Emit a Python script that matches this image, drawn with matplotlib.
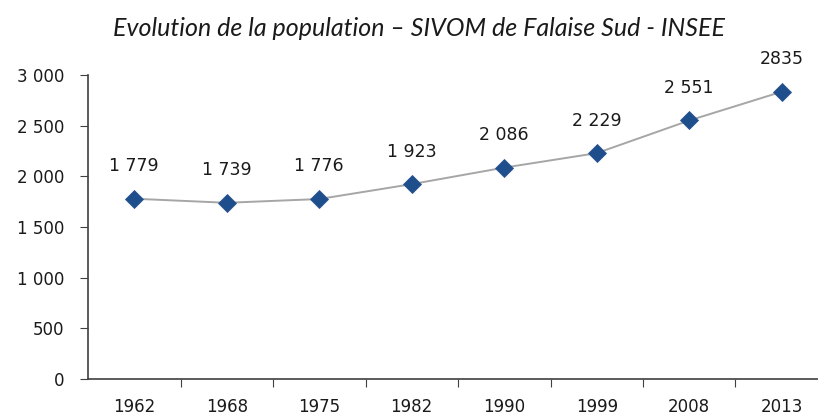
import matplotlib
matplotlib.use("Agg")
import matplotlib.pyplot as plt

years = ["1962", "1968", "1975", "1982", "1990", "1999", "2008", "2013"]
population = [1779, 1739, 1776, 1923, 2086, 2229, 2551, 2835]
point_labels = ["1 779", "1 739", "1 776", "1 923", "2 086", "2 229", "2 551", "2835"]
y_ticks = [0, 500, 1000, 1500, 2000, 2500, 3000]
y_tick_labels = ["0", "500", "1 000", "1 500", "2 000", "2 500", "3 000"]

fig = plt.figure(figsize=(8.18, 4.18), dpi=100)
ax = fig.add_axes([88 / 818, 39 / 418, 740 / 818, 304 / 418])

x = range(len(years))
ax.plot(x, population, color="#a6a6a6", linewidth=1.4, zorder=2)
ax.plot(x, population, linestyle="none", marker="D", markersize=9,
        markerfacecolor="#1f4e8c", markeredgecolor="#2a5590", markeredgewidth=0.6, zorder=3)

for i, (v, lab) in enumerate(zip(population, point_labels)):
    ax.annotate(lab, (i, v), xytext=(0, 17), textcoords="offset points",
                ha="center", va="bottom", fontsize=12.5, color="#1a1a1a")

ax.set_xlim(-0.5, len(years) - 0.5)
ax.set_ylim(0, 3000)
ax.set_yticks(y_ticks)
ax.set_yticklabels(y_tick_labels, fontsize=12, color="#1a1a1a")
ax.set_xticks([i + 0.5 for i in range(len(years))])
ax.set_xticklabels([])
ax.set_xticks(list(x), minor=True)
ax.set_xticklabels(years, minor=True, fontsize=12, color="#1a1a1a")
ax.tick_params(axis="x", which="minor", length=0, pad=14)
ax.tick_params(axis="x", which="major", length=6, direction="out", color="#404040")
ax.tick_params(axis="y", length=6, direction="out", color="#404040", pad=11)

for s in ["top", "right"]:
    ax.spines[s].set_visible(False)
for s in ["left", "bottom"]:
    ax.spines[s].set_color("#404040")
    ax.spines[s].set_linewidth(1.2)

fig.text(419 / 818, 1 - 29 / 418, "Evolution de la population \u2013 SIVOM de Falaise Sud - INSEE",
         ha="center", va="center", fontsize=18, style="italic",
         fontfamily="Lato", color="#1a1a1a")

fig.savefig("out.png", dpi=100)
